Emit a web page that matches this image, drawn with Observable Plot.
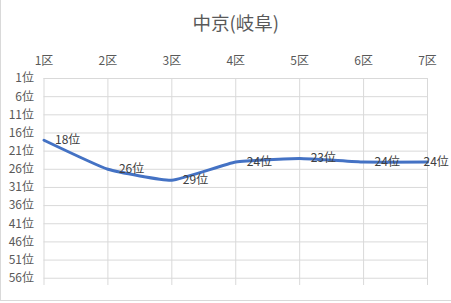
<!DOCTYPE html>
<html>
<head>
<meta charset="utf-8">
<script src="https://cdn.jsdelivr.net/npm/d3@7"></script>
<script src="https://cdn.jsdelivr.net/npm/@observablehq/plot@0.6"></script>
<style>
  html, body { margin: 0; padding: 0; background: #fff; }
  #wrap { position: relative; width: 451px; height: 303px; overflow: hidden; }
  #border { position: absolute; left: 0; top: 0; width: 460px; height: 300px;
    border-left: 1px solid #d9d9d9; border-bottom: 1px solid #d9d9d9; pointer-events: none; }
</style>
</head>
<body>
<div id="wrap"><div id="chart"></div><div id="border"></div></div>
<script>
const title = "中京(岐阜)";
const sections = [1, 2, 3, 4, 5, 6, 7];
const ranks = [18, 26, 29, 24, 23, 24, 24];
const rankTicks = [1, 6, 11, 16, 21, 26, 31, 36, 41, 46, 51, 56];

const data = sections.map((s, i) => ({ section: s, rank: ranks[i] }));
const font = "'Noto Sans CJK JP', 'Noto Sans', sans-serif";

const chart = Plot.plot({
  width: 451,
  height: 303,
  marginLeft: 43.5,
  marginRight: 24,
  marginTop: 78,
  marginBottom: 18,
  style: { fontFamily: font, fontSize: "12px", background: "transparent" },
  x: { domain: [1, 7], axis: null, label: null },
  y: { domain: [1, 58], reverse: true, axis: null, label: null },
  marks: [
    Plot.gridX(sections, { x: d => d, stroke: "#d9d9d9", strokeOpacity: 1, strokeWidth: 1 }),
    Plot.gridY(rankTicks, { y: d => d, stroke: "#d9d9d9", strokeOpacity: 1, strokeWidth: 1 }),
    Plot.axisX(sections, { anchor: "top", label: null, tickSize: 0, tickPadding: 14, tickFormat: d => d + "区", fill: "#595959", fontSize: 12 }),
    Plot.axisY(rankTicks, { anchor: "left", label: null, tickSize: 0, tickPadding: 10, tickFormat: d => d + "位", fill: "#595959", fontSize: 12 }),
    Plot.line(data, { x: "section", y: "rank", stroke: "#4472C4", strokeWidth: 3, curve: d3.curveCardinal.tension(0.6), strokeLinecap: "round", strokeLinejoin: "round" }),
    Plot.text(data.slice(0, -1), { x: "section", y: "rank", text: d => d.rank + "位", textAnchor: "start", dx: 11, fill: "#404040", fontSize: 12 }),
    Plot.text(data.slice(-1), { x: "section", y: "rank", text: d => d.rank + "位", textAnchor: "start", dx: -4, fill: "#404040", fontSize: 12 }),
    Plot.text([title], { text: d => d, frameAnchor: "top", lineAnchor: "middle", dy: -54, fill: "#595959", fontSize: 18.5 })
  ]
});
document.getElementById("chart").appendChild(chart);
</script>
</body>
</html>
